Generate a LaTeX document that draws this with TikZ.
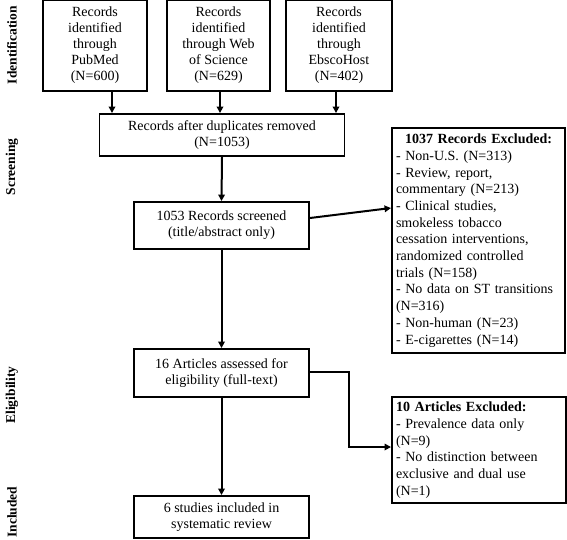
\documentclass[tikz,border=0pt]{standalone}
\usepackage{fontspec}
\setmainfont{Liberation Serif}
\usetikzlibrary{arrows.meta}
\begin{document}
\begin{tikzpicture}[x=1pt,y=-1pt,
  box/.style={draw,line width=1.9pt,inner sep=0pt,align=center,font=\fontsize{14}{16}\selectfont},
  exbox/.style={draw,line width=1.9pt,inner sep=0pt,font=\fontsize{14}{16.7}\selectfont},
  conn/.style={line width=2pt,-{Triangle[length=6.5pt,width=6.5pt]}},
  phase/.style={rotate=90,font=\fontsize{13.5}{15}\selectfont\bfseries}]
\useasboundingbox (0,0) rectangle (567,539);
% top sources
\node[box,minimum width=104pt,minimum height=91pt] (pub) at (95,45.5) {Records\\identified\\through\\PubMed\\(N=600)};
\node[box,minimum width=103pt,minimum height=91pt] (wos) at (218.5,45.5) {Records\\identified\\through Web\\of Science\\(N=629)};
\node[box,minimum width=106pt,minimum height=91pt] (ebs) at (339,45.5) {Records\\identified\\through\\EbscoHost\\(N=402)};
\node[box,minimum width=245pt,minimum height=42pt] (dup) at (222,135) {Records after duplicates removed\\(N=1053)};
\node[box,minimum width=175pt,minimum height=47pt] (scr) at (221.5,225.5) {1053 Records screened\\(title/abstract only)};
\node[box,minimum width=175pt,minimum height=48pt] (elig) at (221.5,373) {16 Articles assessed for\\eligibility (full-text)};
\node[box,minimum width=175pt,minimum height=42pt] (inc) at (221.5,517) {6 studies included in\\systematic review};
\node[exbox,minimum width=173pt,minimum height=225pt,text width=165pt,align=left] (ex1) at (478.5,240.5)
 {\hfill\textbf{1037 Records Excluded:}\hfill\null\\
 - Non-U.S. (N=313)\\
 - Review, report,\\
 commentary (N=213)\\
 - Clinical studies,\\
 smokeless tobacco\\
 cessation interventions,\\
 randomized controlled\\
 trials (N=158)\\
 - No data on ST transitions\\
 (N=316)\\
 - Non-human (N=23)\\
 - E-cigarettes (N=14)};
\node[exbox,minimum width=174pt,minimum height=106pt,text width=166pt,align=left] (ex2) at (479,450)
 {\textbf{10 Articles Excluded:}\\
 - Prevalence data only\\
 (N=9)\\
 - No distinction between\\
 exclusive and dual use\\
 (N=1)};
% connectors
\draw[conn] (pub.south -| 112,0) -- (dup.north -| 112,0);
\draw[conn] (wos.south -| 220,0) -- (dup.north -| 220,0);
\draw[conn] (ebs.south -| 336,0) -- (dup.north -| 336,0);
\draw[conn] (dup.south) -- (scr.north);
\draw[conn] (scr.east |- 0,218) -- (ex1.west |- 0,208);
\draw[conn] (scr.south) -- (elig.north);
\draw[conn] (elig.south) -- (inc.north);
\coordinate (e1) at (349,372);
\coordinate (e2) at (349,447);
\draw[conn] (elig.east |- e1) -- (e1) -- (e2) -- (ex2.west |- e2);
% phase labels
\node[phase] (p1) at (12,45) {Identification};
\node[phase] (p2) at (12,167) {Screening};
\node[phase] (p3) at (12,395) {Eligibility};
\node[phase] (p4) at (12,512) {Included};
\end{tikzpicture}
\end{document}
